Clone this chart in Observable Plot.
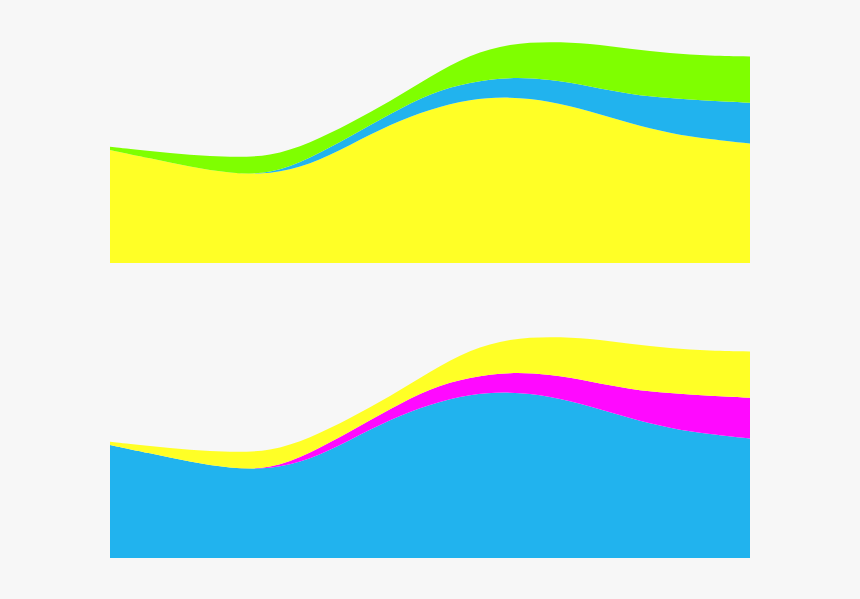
<!DOCTYPE html>
<html>
<head>
<meta charset="utf-8">
<script src="https://cdn.jsdelivr.net/npm/d3@7"></script>
<script src="https://cdn.jsdelivr.net/npm/@observablehq/plot@0.6"></script>
<style>
  html, body { margin: 0; padding: 0; background: #f7f7f7; }
  #chart svg { display: block; }
</style>
</head>
<body>
<div id="chart"></div>
<script>
const steps = [0, 40, 80, 120, 160, 200, 240, 280, 320, 360, 400, 440, 480, 520, 560, 600, 640];
const seriesNames = ["A", "B", "C"];
const valuesA = [113, 104.7, 96.3, 89.7, 88.5, 98, 118, 138.5, 154, 164, 166.5, 162, 152, 139.7, 129.7, 123.7, 119.5];
const valuesB = [0, 0, 0, 0, 0, 6.7, 8.3, 10.5, 16, 17, 19.5, 21.7, 24.7, 29, 35, 38.3, 40.8];
const valuesC = [3.3, 7.3, 11.7, 16, 18, 15, 13.4, 12.5, 16.5, 27.5, 33.5, 37.6, 43, 45.3, 45, 45.3, 46.2];
const paletteTop = ["#ffff26", "#21b3ee", "#7fff00"];
const paletteBottom = ["#21b3ee", "#ff09ff", "#ffff26"];

const allValues = [valuesA, valuesB, valuesC];
const rows = [];
seriesNames.forEach((name, i) => {
  steps.forEach((s, j) => rows.push({series: name, step: s, value: allValues[i][j]}));
});

function chart(palette) {
  return Plot.plot({
    width: 860,
    height: 295,
    marginLeft: 110,
    marginRight: 110,
    marginTop: 23,
    marginBottom: 32,
    x: {axis: null, domain: [0, 640]},
    y: {axis: null, domain: [0, 240]},
    color: {domain: seriesNames, range: palette},
    style: {background: "transparent"},
    marks: [
      Plot.areaY(rows, {x: "step", y: "value", z: "series", fill: "series", curve: "basis"})
    ]
  });
}

const root = document.getElementById("chart");
root.appendChild(chart(paletteTop));
root.appendChild(chart(paletteBottom));
</script>
</body>
</html>
